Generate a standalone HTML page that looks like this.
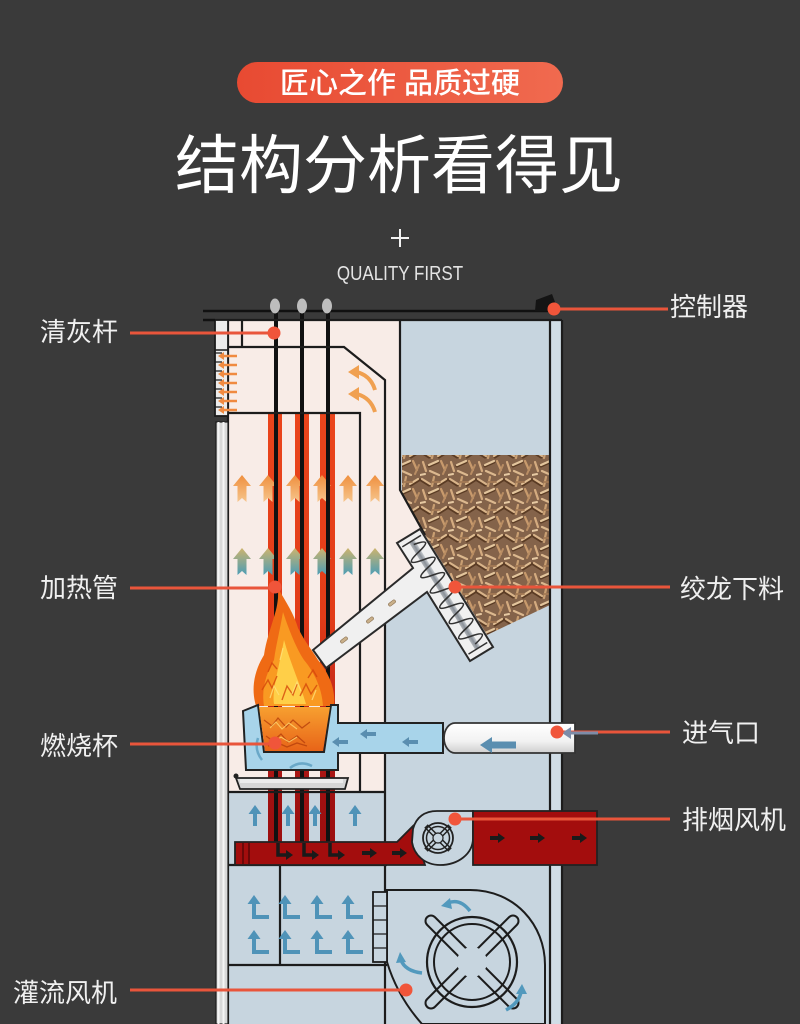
<!DOCTYPE html>
<html><head><meta charset="utf-8"><style>
html,body{margin:0;padding:0;background:#3a3a3a;}
svg{display:block;}
text{font-family:"Liberation Sans","Noto Sans CJK SC",sans-serif;}
</style></head><body>
<svg width="800" height="1024" viewBox="0 0 800 1024" xmlns="http://www.w3.org/2000/svg">
<defs>
<linearGradient id="pill" x1="0" y1="0" x2="1" y2="0"><stop offset="0" stop-color="#e84a32"/><stop offset="1" stop-color="#f06a4f"/></linearGradient>
<linearGradient id="tubeG" x1="0" y1="413" x2="0" y2="865" gradientUnits="userSpaceOnUse"><stop offset="0" stop-color="#ea451c"/><stop offset="0.45" stop-color="#e23c18"/><stop offset="0.72" stop-color="#b8201a"/><stop offset="0.85" stop-color="#a01010"/><stop offset="1" stop-color="#9a0e0e"/></linearGradient>
<linearGradient id="og" x1="0" y1="0" x2="0" y2="1"><stop offset="0" stop-color="#ef8f3e"/><stop offset="1" stop-color="#f6c58c"/></linearGradient>
<linearGradient id="tg" x1="0" y1="0" x2="0" y2="1"><stop offset="0" stop-color="#cdb46e"/><stop offset="1" stop-color="#4c9db5"/></linearGradient>
<linearGradient id="cyl" x1="0" y1="0" x2="0" y2="1"><stop offset="0" stop-color="#ffffff"/><stop offset="0.6" stop-color="#f2f2f2"/><stop offset="1" stop-color="#cfcfcf"/></linearGradient>
<linearGradient id="shaft" x1="0" y1="0" x2="0" y2="1"><stop offset="0" stop-color="#c8ccd0"/><stop offset="0.5" stop-color="#8a9098"/><stop offset="1" stop-color="#b0b4b8"/></linearGradient>
<linearGradient id="fire" x1="0" y1="0" x2="0" y2="1"><stop offset="0" stop-color="#f7a030"/><stop offset="1" stop-color="#e86418"/></linearGradient>
<pattern id="pel" width="28" height="28" patternUnits="userSpaceOnUse">
<rect width="28" height="28" fill="#84634a"/>
<g stroke-linecap="round" fill="none">
<path d="M1,4 L9,9" stroke="#5a3b24" stroke-width="3"/>
<path d="M2,3 L10,8" stroke="#d9b48a" stroke-width="2.2"/>
<path d="M14,1 L12,10" stroke="#c99f72" stroke-width="2.2"/>
<path d="M19,9 L27,4" stroke="#5a3b24" stroke-width="3"/>
<path d="M18,8 L26,3" stroke="#e0bd92" stroke-width="2.2"/>
<path d="M3,14 L6,23" stroke="#d4ab7f" stroke-width="2.2"/>
<path d="M9,18 L18,14" stroke="#5a3b24" stroke-width="3"/>
<path d="M9,17 L18,13" stroke="#e3c59c" stroke-width="2.2"/>
<path d="M21,13 L25,22" stroke="#c89a6c" stroke-width="2.2"/>
<path d="M10,23 L19,27" stroke="#dcb88e" stroke-width="2.2"/>
<path d="M23,26 L27,17" stroke="#b98d63" stroke-width="2"/>
<path d="M0,27 L5,26" stroke="#e6c9a2" stroke-width="2"/>
<path d="M12,6 L20,6" stroke="#a47a55" stroke-width="1.8"/>
</g>
</pattern>
<path id="ua" d="M0,0 L9,11 L4.5,11 L4.5,27 L0,23 L-4.5,27 L-4.5,11 L-9,11 Z"/>
<g id="la"><path d="M0,-5 V10 H15" stroke="#4f93b8" stroke-width="4" fill="none"/><path d="M-6.5,-3 L0,-12 L6.5,-3 Z" fill="#4f93b8"/></g>
<g id="ba"><path d="M0,-3 V11" stroke="#4f93b8" stroke-width="4" fill="none"/><path d="M-6.5,-1 L0,-10 L6.5,-1 Z" fill="#4f93b8"/></g>
<g id="bk"><path d="M0,0 H9" stroke="#1a1a1a" stroke-width="4"/><path d="M8,-5 L15,0 L8,5 Z" fill="#1a1a1a"/></g>
<g id="bl"><path d="M0,0 H10" stroke="#5a8eb0" stroke-width="4"/><path d="M-6,0 L1,-5 L1,5 Z" fill="#5a8eb0"/></g>
</defs>

<rect width="800" height="1024" fill="#3a3a3a"/>

<!-- Header -->
<rect x="237" y="62" width="326" height="41" rx="20.5" fill="url(#pill)"/>
<text x="400" y="93" text-anchor="middle" font-size="29" font-weight="500" fill="#ffffff">匠心之作 品质过硬</text>
<text x="399" y="188" text-anchor="middle" font-size="64" fill="#ffffff">结构分析看得见</text>
<path d="M391,238 H409 M400,229 V247" stroke="#f2f2f2" stroke-width="2"/>
<text x="400" y="280" text-anchor="middle" font-size="17" fill="#e4e4e4" transform="translate(0,-56) scale(1,1.2)">QUALITY FIRST</text>

<!-- Main chamber fills -->
<rect x="228" y="320" width="172" height="472" fill="#f8ece7"/>
<path d="M399,488 L427,537 L420,580 L399,590 Z" fill="#f8ece7"/>
<path d="M400,320 H562 V1024 H385 V600 L420,575 L425,535 L400,490 Z" fill="#c7d5df"/>
<rect x="228" y="792" width="160" height="232" fill="#c7d5df"/>
<rect x="550" y="320" width="12" height="704" fill="#d0dde6"/>

<!-- pellets -->
<path d="M402,455 L550,455 L550,605 L487,635 L425,535 L402,492 Z" fill="url(#pel)"/>

<!-- heating tubes -->
<rect x="268" y="413" width="14" height="432" fill="url(#tubeG)"/>
<rect x="295" y="413" width="14" height="432" fill="url(#tubeG)"/>
<rect x="320" y="413" width="15" height="432" fill="url(#tubeG)"/>

<!-- pink arrows -->
<g fill="url(#og)">
<use href="#ua" x="242" y="475"/><use href="#ua" x="268" y="475"/><use href="#ua" x="295" y="475"/><use href="#ua" x="322" y="475"/><use href="#ua" x="348" y="475"/><use href="#ua" x="375" y="475"/>
</g>
<g fill="url(#tg)">
<use href="#ua" x="242" y="548"/><use href="#ua" x="268" y="548"/><use href="#ua" x="295" y="548"/><use href="#ua" x="322" y="548"/><use href="#ua" x="348" y="548"/><use href="#ua" x="375" y="548"/>
</g>

<!-- rods -->
<g stroke="#111" stroke-width="4">
<path d="M276,312 V848"/><path d="M302,312 V848"/><path d="M328,312 V848"/>
</g>

<!-- flue curved arrows -->
<g stroke="#f0a050" stroke-width="4" fill="none">
<path d="M375,390 Q371,376 357,372"/>
<path d="M375,412 Q371,398 357,394"/>
</g>
<g fill="#f0a050">
<path d="M348,372 L359,365 L359,379 Z"/>
<path d="M348,394 L359,387 L359,401 Z"/>
</g>

<!-- structure lines -->
<g stroke="#1c1c1c" stroke-width="2.2" fill="none">
<path d="M215,320 H562"/>
<path d="M228,320 V1024"/>
<path d="M242,320 V347"/>
<path d="M228,347 H344 L385,380 V1024"/>
<path d="M228,413 H360 V792"/>
<path d="M228,792 H385"/>
<path d="M400,320 V490 L425,535"/>
<path d="M550,320 V1024"/>
<path d="M562,320 V1024"/>
<path d="M228,865 H387"/>
<path d="M280,865 V965"/>
<path d="M228,965 H387"/>
</g>

<!-- chute + auger -->
<path d="M397,543 L420,529 L493,647 L470,661 L427,592 L326,668 L313,650 L413,568 Z" fill="#f0f0f0" stroke="#2a2a2a" stroke-width="2"/>
<g transform="translate(408.5,536) rotate(58.3)">
<rect x="6" y="-3" width="126" height="6" fill="url(#shaft)"/>
<path d="M6,-11 V11 M132,-11 V11" stroke="#333" stroke-width="1.5"/>
<path d="M10,0 q4.5,-22 9,0 t9,0 t9,0 t9,0 t9,0 t9,0 t9,0 t9,0 t9,0 t9,0 t9,0 t9,0 t9,0" stroke="#333" stroke-width="1.6" fill="none"/>
</g>
<g fill="#c9b08a" stroke="#8a7050" stroke-width="0.6">
<rect x="-4" y="-1.6" width="8" height="3.2" rx="1.5" transform="translate(392,603) rotate(-38)"/>
<rect x="-4" y="-1.6" width="8" height="3.2" rx="1.5" transform="translate(370,620) rotate(-38)"/>
<rect x="-4" y="-1.6" width="8" height="3.2" rx="1.5" transform="translate(344,640) rotate(-38)"/>
</g>

<!-- flame -->
<path d="M256,706 C250,686 256,668 264,655 C266,640 272,625 276,610 C278,602 278,596 279,590 C286,602 294,614 298,628 C305,642 312,650 318,660 C328,672 336,688 334,706 Z" fill="#ef6a14"/>
<path d="M264,706 C261,688 267,672 274,660 C276,645 280,630 283,612 C289,630 296,648 304,660 C314,672 322,688 323,706 Z" fill="#f99a22"/>
<path d="M274,704 C272,690 278,672 284,640 C290,662 300,684 306,704 Z" fill="#ffcf48"/>
<g stroke="#d5480c" stroke-width="1.4" fill="none" opacity="0.8">
<path d="M262,690 l6,-10 l4,8 l5,-12"/><path d="M282,700 l5,-14 l6,9 l4,-11"/><path d="M300,696 l6,-12 l5,10 l6,-9"/><path d="M268,672 l4,-9 l5,6"/><path d="M308,678 l5,-8 l4,7"/>
</g>
<g stroke="#ffe27a" stroke-width="1.2" fill="none" opacity="0.8">
<path d="M270,698 l4,-12 l5,9"/><path d="M292,694 l5,-12 l4,9"/><path d="M312,700 l4,-10"/><path d="M280,660 l3,-12"/>
</g>

<!-- burn pot -->
<path d="M243,711 L258,705 L264,752 L324,752 L331,705 L338,705 L338,723 L443,723 L443,753 L338,753 L338,770 L246,770 Z" fill="#a8d4ea" stroke="#222" stroke-width="2"/>
<path d="M259,707 L330,707 L323,751 L265,751 Z" fill="url(#fire)"/>
<g stroke="#b8400c" stroke-width="1.3" fill="none" opacity="0.8">
<path d="M264,720 l8,6 l6,-8 l8,9 l7,-7 l9,8 l8,-6"/><path d="M266,736 l7,5 l8,-7 l7,8 l9,-6 l8,7"/><path d="M268,746 l10,-3 l9,4 l10,-4 l10,3"/>
</g>
<g stroke="#ffd870" stroke-width="1.1" fill="none" opacity="0.8">
<path d="M270,728 l6,-6 l6,7 l7,-6 l8,6"/><path d="M274,742 l7,-5 l8,5 l8,-5"/>
</g>
<path d="M258,738 Q254,750 262,760" stroke="#6aa8c8" stroke-width="2.5" fill="none"/>
<path d="M290,768 Q300,760 312,766" stroke="#6aa8c8" stroke-width="2.5" fill="none"/>

<!-- white air inlet cylinder -->
<path d="M455,723 H575 V753 H455 A11,15 0 0 1 455,723 Z" fill="url(#cyl)" stroke="#333" stroke-width="1.8"/>
<use href="#bl" x="338" y="742"/>
<use href="#bl" x="366" y="734"/>
<use href="#bl" x="408" y="742"/>
<path d="M488,745 H516" stroke="#5a8eb0" stroke-width="7"/>
<path d="M480,745 L492,737 L492,753 Z" fill="#5a8eb0"/>

<!-- ash tray -->
<path d="M236,778 H348 L345,789 H240 Z" fill="#d6d6d6" stroke="#222" stroke-width="1.8"/>
<rect x="240" y="779" width="103" height="4" fill="#ececec"/>
<circle cx="236" cy="776" r="2.5" fill="#222"/>

<!-- blue up arrows lower zone -->
<use href="#ba" x="255" y="815"/><use href="#ba" x="288" y="815"/><use href="#ba" x="315" y="815"/><use href="#ba" x="355" y="815"/>

<!-- exhaust duct -->
<path d="M235,842 H397 L413,826 L425,865 H235 Z" fill="#a30d0d" stroke="#222" stroke-width="1.8"/>
<path d="M243,843 V864 M249,843 V864" stroke="#5a0606" stroke-width="1.5"/>
<path d="M413,829 C416,817 425,811 437,811 H473 V838 C473,854 458,865 440,865 C425,865 414,855 412,842 Z" fill="#c7d5df" stroke="#222" stroke-width="1.8"/>
<g stroke="#222" stroke-width="5"><path d="M426,826 L450,850 M450,826 L426,850"/></g>
<g stroke="#c7d5df" stroke-width="2"><path d="M427,827 L449,849 M449,827 L427,849"/></g>
<circle cx="438" cy="838" r="15" fill="none" stroke="#222" stroke-width="1.8"/>
<circle cx="438" cy="838" r="11.5" fill="none" stroke="#222" stroke-width="1.5"/>
<circle cx="438" cy="838" r="5" fill="#c7d5df" stroke="#222" stroke-width="1.2"/>
<rect x="473" y="811" width="124" height="54" fill="#a30d0d" stroke="#222" stroke-width="1.8"/>
<use href="#bk" x="490" y="838"/><use href="#bk" x="530" y="838"/><use href="#bk" x="572" y="838"/>
<use href="#bk" x="362" y="853"/><use href="#bk" x="392" y="853"/>
<g stroke="#1a1a1a" stroke-width="3.5" fill="none">
<path d="M278,843 V855 H287"/><path d="M304,843 V855 H313"/><path d="M330,843 V855 H339"/>
</g>
<g fill="#1a1a1a"><path d="M286,850 L293,855 L286,860 Z"/><path d="M312,850 L319,855 L312,860 Z"/><path d="M338,850 L345,855 L338,860 Z"/></g>

<!-- L arrows -->
<use href="#la" x="254" y="907"/><use href="#la" x="285" y="907"/><use href="#la" x="317" y="907"/><use href="#la" x="348" y="907"/>
<use href="#la" x="254" y="942"/><use href="#la" x="285" y="942"/><use href="#la" x="317" y="942"/><use href="#la" x="348" y="942"/>

<!-- big blower -->
<path d="M387,890 H470 C515,890 545,925 545,965 V1024 H422 C405,1005 394,985 387,962 Z" fill="#c7d5df" stroke="#1c1c1c" stroke-width="2"/>
<rect x="373" y="892" width="14" height="70" fill="#c7d5df" stroke="#1c1c1c" stroke-width="1.8"/>
<path d="M373,906 H387 M373,920 H387 M373,934 H387 M373,948 H387" stroke="#1c1c1c" stroke-width="1.3"/>
<g stroke="#1c1c1c" stroke-width="13" stroke-linecap="round"><path d="M431,921 L513,1003 M513,921 L431,1003"/></g>
<g stroke="#c7d5df" stroke-width="9" stroke-linecap="round"><path d="M431,921 L513,1003 M513,921 L431,1003"/></g>
<circle cx="472" cy="962" r="45" fill="none" stroke="#1c1c1c" stroke-width="2.2"/>
<circle cx="472" cy="962" r="38" fill="none" stroke="#1c1c1c" stroke-width="2"/>
<circle cx="472" cy="962" r="15" fill="#c7d5df"/>
<g stroke="#5299bd" stroke-width="3.5" fill="none">
<path d="M470,911 Q460,898 448,903"/>
<path d="M422,973 Q405,971 401,960"/>
<path d="M506,1010 Q519,1003 521,992"/>
</g>
<g fill="#5299bd">
<path d="M441,906 L450,898 L452,909 Z"/>
<path d="M400,952 L396,963 L406,962 Z"/>
<path d="M522,984 L516,994 L527,994 Z"/>
</g>

<!-- left wall strip -->
<rect x="215" y="320" width="13" height="96" fill="#ececec" stroke="#1c1c1c" stroke-width="1.8"/>
<path d="M215,350 H228" stroke="#1c1c1c" stroke-width="1.5"/>
<g stroke="#1c1c1c" stroke-width="1.3"><path d="M215,353 H222 M215,362 H222 M215,371 H222 M215,380 H222 M215,389 H222 M215,398 H222 M215,407 H222"/></g>
<g stroke="#f08a40" stroke-width="2.5"><path d="M223,356 H237 M223,365 H237 M223,374 H237 M223,383 H237 M223,392 H237 M223,401 H237 M223,410 H237"/></g>
<g fill="#f08a40"><path d="M218,356 l6,-4 v8 Z M218,365 l6,-4 v8 Z M218,374 l6,-4 v8 Z M218,383 l6,-4 v8 Z M218,392 l6,-4 v8 Z M218,401 l6,-4 v8 Z M218,410 l6,-4 v8 Z"/></g>
<rect x="216" y="422" width="12" height="602" fill="#d8d8d8" stroke="#1c1c1c" stroke-width="1.2"/>
<path d="M218.5,422 V1024 M223.5,422 V1024" stroke="#f4f4f4" stroke-width="2"/>

<!-- top bar, caps, controller -->
<path d="M203,311 H553" stroke="#111" stroke-width="2.5"/>
<path d="M203,320 H215" stroke="#111" stroke-width="2.5"/>
<ellipse cx="275" cy="306" rx="5" ry="7.5" fill="#bdbdbd"/>
<ellipse cx="302" cy="306" rx="5" ry="7.5" fill="#bdbdbd"/>
<ellipse cx="327" cy="306" rx="5" ry="7.5" fill="#bdbdbd"/>
<path d="M535,311 L536,300 L552,294 L555,302 L549,305 L549,311 Z" fill="#141414"/>

<!-- callout lines -->
<g stroke="#e9553b" stroke-width="3">
<path d="M130,333 H274"/>
<path d="M554,309 H668"/>
<path d="M130,588 H275"/>
<path d="M455,587 H670"/>
<path d="M130,744 H275"/>
<path d="M557,732 H670"/>
<path d="M455,819 H670"/>
<path d="M130,990 H406"/>
</g>
<path d="M598,733 H568" stroke="#7d8ca8" stroke-width="3"/>
<path d="M562,733 L571,727 L571,739 Z" fill="#7d8ca8"/>
<g fill="#f0553a">
<circle cx="274" cy="333" r="6.5"/>
<circle cx="554" cy="309" r="6.5"/>
<circle cx="275" cy="587" r="6.5"/>
<circle cx="455" cy="587" r="6.5"/>
<circle cx="275" cy="743" r="6.5"/>
<circle cx="557" cy="732" r="6.5"/>
<circle cx="455" cy="819" r="6.5"/>
<circle cx="406" cy="990" r="6.5"/>
</g>

<!-- labels -->
<g font-size="26" fill="#f0f0f0">
<text x="40" y="341">清灰杆</text>
<text x="40" y="597">加热管</text>
<text x="40" y="755">燃烧杯</text>
<text x="13" y="1002">灌流风机</text>
<text x="670" y="316">控制器</text>
<text x="680" y="598">绞龙下料</text>
<text x="682" y="742">进气口</text>
<text x="682" y="829">排烟风机</text>
</g>
</svg>
</body></html>
